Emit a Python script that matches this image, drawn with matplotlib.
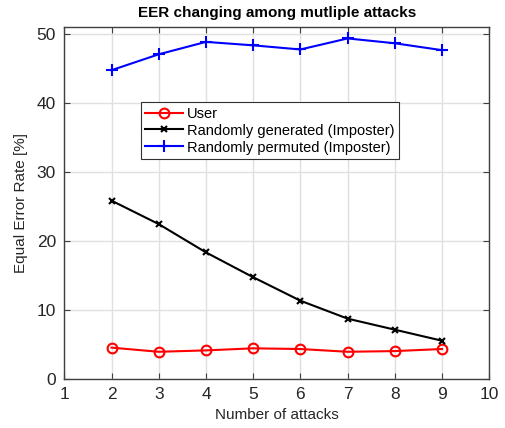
import numpy as np
import matplotlib.pyplot as plt

plt.rcParams['font.family'] = ['Liberation Sans', 'DejaVu Sans']

attacks = [2, 3, 4, 5, 6, 7, 8, 9]
eer_user = [4.5, 3.9, 4.1, 4.4, 4.3, 3.9, 4.0, 4.3]
eer_generated = [25.8, 22.4, 18.3, 14.7, 11.3, 8.7, 7.1, 5.5]
eer_permuted = [44.7, 47.0, 48.8, 48.3, 47.7, 49.3, 48.6, 47.6]

fig = plt.figure(figsize=(5.05, 4.28), dpi=100)
ax = fig.add_axes([0.1273, 0.1152, 0.8416, 0.8224])

ax.plot(attacks, eer_user, color='red', marker='o', markersize=7,
        markerfacecolor='none', markeredgewidth=1.5, linewidth=1.5, label='User')
ax.plot(attacks, eer_generated, color='black', marker='x', markersize=5,
        markeredgewidth=1.5, linewidth=1.5, label='Randomly generated (Imposter)')
ax.plot(attacks, eer_permuted, color='blue', marker='+', markersize=8,
        markeredgewidth=1.5, linewidth=1.5, label='Randomly permuted (Imposter)')

ax.set_xlim(1, 10)
ax.set_ylim(0, 51)
ax.set_xticks(np.arange(1, 11))
ax.set_yticks(np.arange(0, 51, 10))
ax.grid(True, color='#e0e0e0', linewidth=1)
ax.set_axisbelow(True)
ax.tick_params(direction='in', top=True, right=True, labelsize=12.5,
               color='#404040', length=4, pad=6, labelcolor='#262626')
for s in ax.spines.values():
    s.set_color('#404040')
    s.set_linewidth(1)

ax.set_xlabel('Number of attacks', fontsize=11, color='#262626', labelpad=4)
ax.set_ylabel('Equal Error Rate [%]', fontsize=11, color='#262626', labelpad=6)
ax.set_title('EER changing among mutliple attacks', fontsize=11, fontweight='bold', pad=7)

leg = ax.legend(loc='upper left', bbox_to_anchor=(0.2786, 0.761),
                bbox_transform=fig.transFigure, fontsize=10.5, fancybox=False,
                framealpha=1, edgecolor='#303030', borderaxespad=0,
                handlelength=2.6, handletextpad=0.3, borderpad=0.3,
                labelspacing=0.2)
leg.get_frame().set_linewidth(0.8)

fig.savefig('out.png', dpi=100)
